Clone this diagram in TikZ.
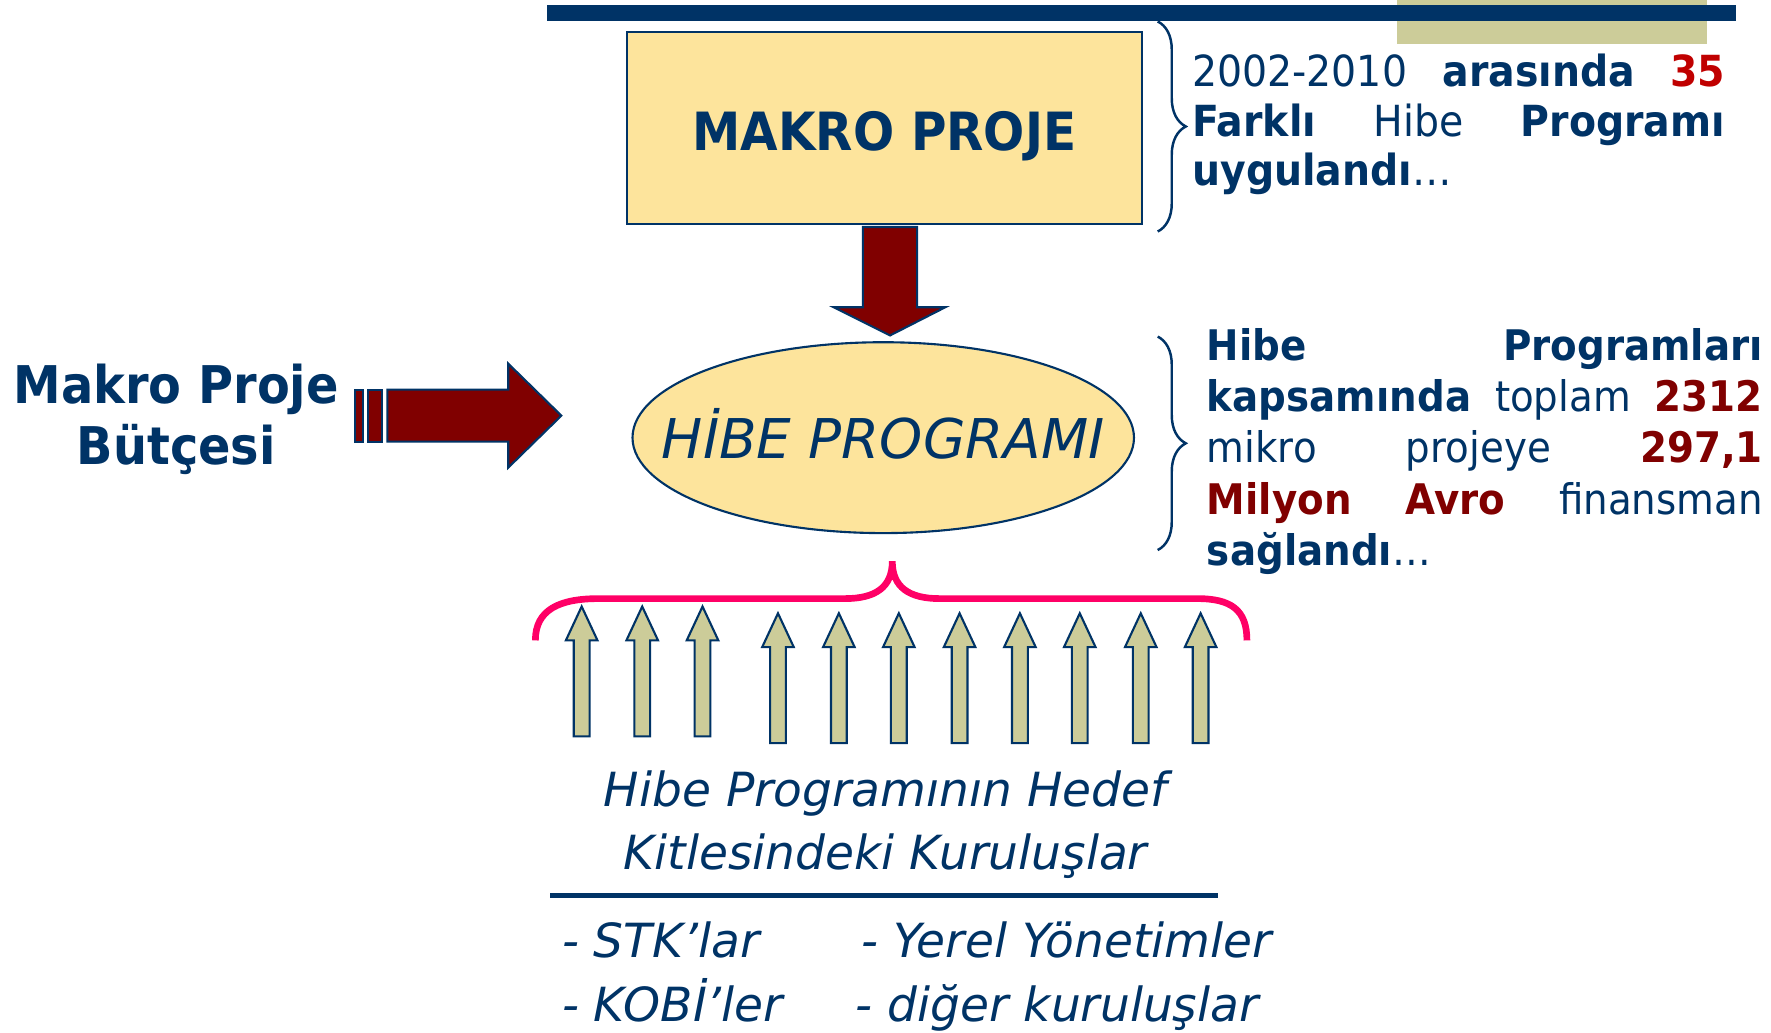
\documentclass[tikz,border=0pt]{standalone}
\usepackage{fontspec}
\setmainfont{DejaVu Sans}[FakeStretch=0.92]
\newfontfamily\slantfont{DejaVu Sans}
\usetikzlibrary{calc,decorations.pathreplacing}
\definecolor{navy}{HTML}{003366}
\definecolor{paleyellow}{HTML}{FDE49C}
\definecolor{darkred}{HTML}{800000}
\definecolor{brightred}{HTML}{C00000}
\definecolor{khaki}{HTML}{CCCC99}
\definecolor{pinkline}{HTML}{FF0066}

\begin{document}
\begin{tikzpicture}[x=0.113mm, y=-0.113mm,
		navyline/.style={draw=navy, line width=0.6pt},
		blockarrow/.style={navyline, fill=darkred},
		uparrow/.style={navyline, fill=khaki},
		bodytext/.style={text=navy, inner sep=0pt},
		navybrace/.style={navy, line width=0.7pt, decorate, decoration={brace, amplitude=8pt}}]
	%%%%% START %%%%%
	\useasboundingbox (0,0) rectangle (1568,914);
	
	\fill[khaki] (1237,0) rectangle (1511,39);
	\fill[navy] (484,4) rectangle (1537,19);
	
	% makro proje box
	\draw[navyline, fill=paleyellow] (555,28) rectangle (1011,198);
	\node[bodytext, anchor=base, font=\bfseries\fontsize{15}{18}\selectfont] (makro) at (783,133) {MAKRO PROJE};
	
	% down arrow
	\draw[blockarrow] (764,201) -- (812,201) -- (812,272) -- (837,272) -- (788,297) -- (738,272) -- (764,272) -- cycle;
	
	% hibe programi ellipse
	\draw[navyline, fill=paleyellow] (782,387.5) ellipse (222 and 84.5);
	\node[bodytext, anchor=base, font=\slantfont\itshape\fontsize{15.6}{18}\selectfont] (hibe) at (782,406) {HİBE PROGRAMI};
	
	% left side
	\node[bodytext, anchor=base, align=center, font=\bfseries\fontsize{14.8}{17.4}\selectfont] (butce) at (156,411) {Makro Proje\\Bütçesi};
	\draw[blockarrow] (314,345) rectangle (321,391);
	\draw[blockarrow] (326,345) rectangle (338,391);
	\draw[blockarrow] (343,345) -- (450,345) -- (450,322) -- (497,368) -- (450,414) -- (450,391) -- (343,391) -- cycle;
	
	% right side texts
	\draw[navybrace] (1025,19) -- (1025,205);
	\node[bodytext, anchor=base west, text width=151.7pt, align=left, font=\fontsize{12.2}{14}\selectfont] (donem) at (1055,77)
		{\makebox[\linewidth][s]{2002-2010\hfill\textbf{arasında}\hfill\textcolor{brightred}{\textbf{35}}}\\
		 \makebox[\linewidth][s]{\textbf{Farklı}\hfill Hibe\hfill\textbf{Programı}}\\
		 \textbf{uygulandı}…};
	
	\draw[navybrace] (1025,298) -- (1025,487);
	\node[bodytext, anchor=base west, text width=158.2pt, align=left, font=\fontsize{12}{14.6}\selectfont] (finans) at (1068,319)
		{\makebox[\linewidth][s]{\textbf{Hibe}\hfill\textbf{Programları}}\\
		 \makebox[\linewidth][s]{\textbf{kapsamında}\hfill toplam\hfill\textcolor{darkred}{\textbf{2312}}}\\
		 \makebox[\linewidth][s]{mikro\hfill projeye\hfill\textcolor{darkred}{\textbf{297,1}}}\\
		 \makebox[\linewidth][s]{\textcolor{darkred}{\textbf{Milyon}}\hfill\textcolor{darkred}{\textbf{Avro}}\hfill finansman}\\
		 \textbf{sağlandı}…};
	
	% target groups
	\draw[pinkline, line width=1.9pt] (474,567) .. controls (474,540) and (495,530) .. (530,530) -- (748,530)
		.. controls (775,530) and (790,520) .. (790,497) .. controls (790,520) and (805,530) .. (832,530) -- (1060,530)
		.. controls (1090,530) and (1104,540) .. (1104,567);
	
	\foreach \x/\d in {515/0, 568.6/0, 622/0, 688.8/6, 742.7/6, 795.8/6, 849.6/6, 903/6, 956/6, 1010/6, 1063/6}
		\draw[uparrow] ({\x-7},{652+\d}) -- ({\x-7},{567+\d}) -- ({\x-14},{567+\d}) -- (\x,{537+\d})
			-- ({\x+14},{567+\d}) -- ({\x+7},{567+\d}) -- ({\x+7},{652+\d}) -- cycle;
	
	\node[bodytext, anchor=base, font=\slantfont\itshape\fontsize{13.4}{16}\selectfont] (hedef) at (784,714) {Hibe Programının Hedef};
	\node[bodytext, anchor=base, font=\slantfont\itshape\fontsize{13.4}{16}\selectfont] (kitle) at (784,770) {Kitlesindeki Kuruluşlar};
	\draw[navy, line width=1.3pt] (487,793) -- (1078,793);
	
	\node[bodytext, anchor=base west, font=\slantfont\itshape\fontsize{13.4}{16}\selectfont] (stk) at (497,848) {- STK’lar};
	\node[bodytext, anchor=base west, font=\slantfont\itshape\fontsize{13.4}{16}\selectfont] (yerel) at (762,848) {- Yerel Yönetimler};
	\node[bodytext, anchor=base west, font=\slantfont\itshape\fontsize{13.4}{16}\selectfont] (kobi) at (497,904) {- KOBİ’ler};
	\node[bodytext, anchor=base west, font=\slantfont\itshape\fontsize{13.4}{16}\selectfont] (diger) at (757,904) {- diğer kuruluşlar};
	
	%%%%% END %%%%%
\end{tikzpicture}
\end{document}
